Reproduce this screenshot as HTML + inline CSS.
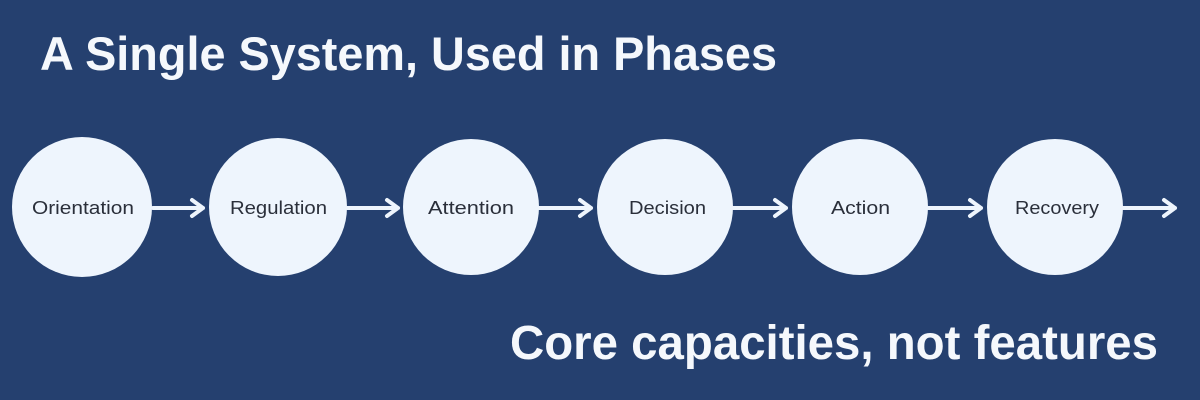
<!DOCTYPE html>
<html><head><meta charset="utf-8"><style>
html,body{margin:0;padding:0;background:#25406f;}
svg{display:block}
</style></head><body>
<svg width="1200" height="400" viewBox="0 0 1200 400" xmlns="http://www.w3.org/2000/svg">
<rect width="1200" height="400" fill="#25406f"/>
<text x="40" y="70" fill="#f5f8fc" font-family="Liberation Sans, sans-serif" font-weight="bold" font-size="47" textLength="737" lengthAdjust="spacingAndGlyphs">A Single System, Used in Phases</text>
<g fill="#eef5fd">
<circle cx="82" cy="207" r="70"/>
<circle cx="278" cy="207" r="69"/>
<circle cx="471" cy="207" r="68"/>
<circle cx="665" cy="207" r="68"/>
<circle cx="860" cy="207" r="68"/>
<circle cx="1055" cy="207" r="68"/>
</g>
<g stroke="#eef5fd" stroke-width="4" fill="none" stroke-linecap="round" stroke-linejoin="round">
<path d="M153 208H203M192 200L203 208L192 216"/>
<path d="M347 208H398M387 200L398 208L387 216"/>
<path d="M539 208H591M580 200L591 208L580 216"/>
<path d="M733 208H786M775 200L786 208L775 216"/>
<path d="M928 208H981M970 200L981 208L970 216"/>
<path d="M1123 208H1175M1164 200L1175 208L1164 216"/>
</g>
<g fill="#2a2f3a" font-family="Liberation Sans, sans-serif" font-size="18" lengthAdjust="spacingAndGlyphs">
<text x="32" y="214" textLength="102" lengthAdjust="spacingAndGlyphs">Orientation</text>
<text x="230" y="214" textLength="97" lengthAdjust="spacingAndGlyphs">Regulation</text>
<text x="428" y="214" textLength="86" lengthAdjust="spacingAndGlyphs">Attention</text>
<text x="629" y="214" textLength="77" lengthAdjust="spacingAndGlyphs">Decision</text>
<text x="831" y="214" textLength="59" lengthAdjust="spacingAndGlyphs">Action</text>
<text x="1015" y="214" textLength="84" lengthAdjust="spacingAndGlyphs">Recovery</text>
</g>
<text x="510" y="359" fill="#f5f8fc" font-family="Liberation Sans, sans-serif" font-weight="bold" font-size="48" textLength="648" lengthAdjust="spacingAndGlyphs">Core capacities, not features</text>
</svg>
</body></html>
